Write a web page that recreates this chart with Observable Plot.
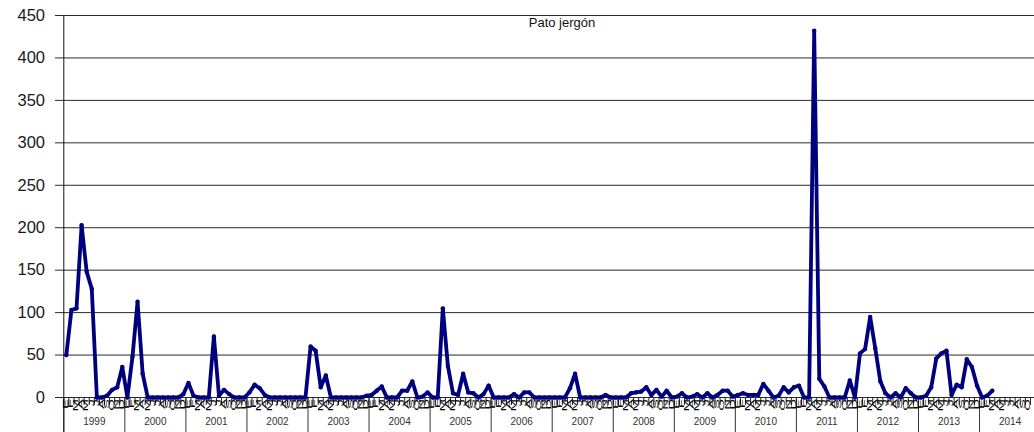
<!DOCTYPE html>
<html><head><meta charset="utf-8">
<script src="https://cdn.jsdelivr.net/npm/d3@7"></script>
<script src="https://cdn.jsdelivr.net/npm/@observablehq/plot@0.6"></script>
<style>html,body{margin:0;padding:0;background:#fff;overflow:hidden;}</style>
</head><body><div id="chart"></div>
<script>
const title = "Pato jergón";
const years = [1999,2000,2001,2002,2003,2004,2005,2006,2007,2008,2009,2010,2011,2012,2013,2014];
const monthLetters = ["E","F","M","A","M","J","J","A","S","O","N","D"];
const yTicks = [0,50,100,150,200,250,300,350,400,450];

const v1999 = [50, 103, 105, 203, 148, 128, 0, 0, 2, 9, 12, 36];
const v2000 = [0, 48, 113, 28, 0, 0, 0, 0, 0, 0, 0, 4];
const v2001 = [17, 2, 0, 0, 0, 72, 2, 9, 4, 0, 0, 0];
const v2002 = [6, 15, 11, 3, 0, 0, 0, 0, 0, 0, 0, 0];
const v2003 = [60, 55, 12, 26, 0, 0, 0, 0, 0, 0, 0, 2];
const v2004 = [3, 8, 13, 0, 0, 0, 8, 8, 19, 0, 1, 6];
const v2005 = [0, 0, 105, 37, 5, 3, 28, 6, 5, 0, 4, 14];
const v2006 = [0, 0, 0, 0, 4, 0, 6, 6, 0, 0, 0, 0];
const v2007 = [0, 0, 0, 11, 28, 0, 0, 0, 0, 0, 3, 0];
const v2008 = [0, 0, 0, 5, 6, 7, 12, 3, 9, 1, 8, 0];
const v2009 = [1, 5, 0, 1, 4, 0, 5, 0, 3, 8, 8, 1];
const v2010 = [3, 5, 3, 3, 3, 16, 8, 0, 2, 12, 6, 12];
const v2011 = [14, 0, 0, 432, 22, 13, 0, 0, 0, 0, 20, 0];
const v2012 = [52, 57, 95, 58, 19, 5, 0, 5, 0, 11, 5, 0];
const v2013 = [0, 2, 12, 46, 52, 55, 3, 15, 12, 45, 36, 14];
const v2014 = [0, 2, 8];

const seriesByYear = [v1999,v2000,v2001,v2002,v2003,v2004,v2005,v2006,v2007,v2008,v2009,v2010,v2011,v2012,v2013,v2014];
const nMonths = years.length * 12;

const data = [];
seriesByYear.forEach((vals, yi) => vals.forEach((v, m) => data.push({t: yi * 12 + m, v})));

// month letters that fit inside the visible window
const months = d3.range(nMonths - 2).map(t => ({t, letter: monthLetters[t % 12]}));
const monthBounds = d3.range(nMonths + 1);
const yearBounds = d3.range(years.length + 1).map(i => i * 12);
const yearLabels = years.map((y, i) => ({t: i * 12 + 6, label: String(y)}));

const plot = Plot.plot({
  width: 1034, height: 432,
  marginLeft: 63, marginRight: 0, marginTop: 15, marginBottom: 35,
  style: {fontFamily: "'Liberation Sans', Arial, sans-serif", background: "#fff", color: "#000"},
  x: {domain: [0, nMonths], range: [63.3, 1040.1], axis: null},
  y: {domain: [0, 450], axis: null},
  marks: [
    Plot.ruleY(yTicks, {y: d => d, stroke: "#2a2a2a", strokeWidth: 1, insetLeft: -8}),
    Plot.ruleX(monthBounds, {x: d => d, stroke: "#222", insetTop: 382, insetBottom: -8}),
    Plot.ruleX(yearBounds, {x: d => d, stroke: "#333", insetTop: 382, insetBottom: -35}),
    Plot.ruleX([0], {x: d => d, stroke: "#111", insetBottom: -35}),
    Plot.text(yTicks, {y: d => d, text: d => String(d), frameAnchor: "left", dx: -18.5, textAnchor: "end", lineAnchor: "middle", fontSize: 16.5, fill: "#1a1a1a", ariaLabel: "ylabels"}),
    Plot.text(months, {x: d => d.t + 0.5, text: "letter", frameAnchor: "bottom", textAnchor: "end", fontSize: 6.5, fill: "#000"}),
    Plot.text(yearLabels, {x: "t", text: "label", frameAnchor: "bottom", dy: 27, fontSize: 10, fill: "#333"}),
    Plot.text([title], {frameAnchor: "top", dx: 13, dy: 7, fontSize: 13, lineAnchor: "middle", fill: "#111"}),
    Plot.line(data, {x: d => d.t + 0.5, y: "v", stroke: "#00007f", strokeWidth: 3.8}),
    Plot.dot(data, {x: d => d.t + 0.5, y: "v", r: 2.2, fill: "#00007f"})
  ]
});

const svg = d3.select(plot);
const xs = plot.scale("x");
const yBottom = plot.scale("y").apply(0);
// find the month-letter text group: the one holding exactly months.length texts
svg.selectAll("g").each(function() {
  const texts = this.querySelectorAll(":scope > text");
  if (texts.length !== months.length) return;
  this.removeAttribute("transform");
  texts.forEach((node, i) => {
    const d = months[i];
    node.removeAttribute("dy");
    node.setAttribute("x", 0);
    node.setAttribute("y", "0.35em");
    node.setAttribute("text-anchor", "end");
    node.setAttribute("transform", `translate(${xs.apply(d.t + 0.5)},${yBottom + 2}) rotate(-90) scale(2.3,1)`);
  });
});
svg.selectAll('g[aria-label="ylabels"] text').each(function() {
  const tr = this.getAttribute("transform");
  if (tr) this.setAttribute("transform", tr + " scale(1.35,1)");
});
document.getElementById("chart").appendChild(plot);
</script>
</body></html>
